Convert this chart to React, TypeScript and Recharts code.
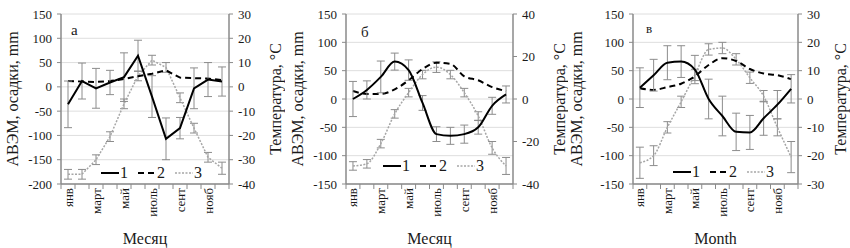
import React from 'react';
import { ComposedChart, Line, XAxis, YAxis, CartesianGrid, ErrorBar, Legend, Label } from 'recharts';

// ---------- data ----------
const monthNumbers = [1, 2, 3, 4, 5, 6, 7, 8, 9, 10, 11, 12];
const monthNames = ['янв', 'февр', 'март', 'апр', 'май', 'июнь', 'июль', 'авг', 'сент', 'окт', 'нояб', 'дек'];
const seriesNames = ['1', '2', '3'];

// panel а
const aAvem = [-36, 12, -3, 9, 20, 64, -20, -107, -85, -3, 15, 11];
const aAvemErr = [48, 37, 41, 25, 50, 32, 43, 43, 22, 42, 35, 30];
const aPrecip = [12, 11, 10, 12, 16, 22, 27, 34, 19, 18, 17, 14];
const aTemp = [-36, -36, -30, -20.5, -7, 4.5, 11, 8, -4.5, -17, -29, -33.5];
const aTempErr = [2, 2, 2, 2, 2, 2, 2, 2, 2, 2, 2, 2.5];

// panel б
const bAvem = [0, 16, 39, 66, 51, -7, -62, -65, -62, -50, -12, 8];
const bAvemErr = [31, 16, 28, 15, 18, 13, 13, 15, 16, 12, 15, 15];
const bPrecip = [14, 9, 9, 17, 33, 53, 64, 62, 40, 33, 21, 14];
const bTemp = [-31.5, -30.5, -21, -7, 3, 11.5, 15, 11.5, 3, -8, -23, -31.5];
const bTempErr = [2, 2, 2, 2, 2, 2, 2.5, 2, 2, 2, 3, 4];

// panel в
const cAvem = [20, 42, 64, 66, 52, 0, -30, -58, -59, -34, -10, 18];
const cAvemErr = [35, 28, 30, 28, 25, 35, 35, 33, 30, 30, 25, 25];
const cPrecip = [19, 16, 21, 27, 40, 60, 72, 67, 53, 45, 42, 35];
const cTemp = [-22.5, -20, -10, -1, 8.5, 17.5, 18, 14, 7.5, 1, -10, -20.5];
const cTempErr = [5.5, 3.5, 2, 2, 2, 2, 2, 2, 2, 2, 3, 5.5];

// axis ticks
const aLeftTicks = [-200, -150, -100, -50, 0, 50, 100, 150];
const aRightTicks = [-40, -30, -20, -10, 0, 10, 20, 30];
const bLeftTicks = [-150, -100, -50, 0, 50, 100, 150];
const bRightTicks = [-40, -20, 0, 20, 40];
const cLeftTicks = [-150, -100, -50, 0, 50, 100, 150];
const cRightTicks = [-30, -20, -10, 0, 10, 20, 30];
const xTicks = [0.5, 1, 1.5, 2, 2.5, 3, 3.5, 4, 4.5, 5, 5.5, 6, 6.5, 7, 7.5, 8, 8.5, 9, 9.5, 10, 10.5, 11, 11.5, 12, 12.5];

const leftTitle = 'АВЭМ, осадки, mm';
const rightTitle = 'Температура, °С';

function buildRows(s1: number[], e1: number[], s2: number[], s3: number[], e3: number[]) {
  return monthNumbers.map((m, i) => ({ m, s1: s1[i], e1: e1[i], s2: s2[i], s3: s3[i], e3: e3[i] }));
}

// ---------- styling ----------
const FONT = 'Liberation Serif';
const AXIS_COLOR = '#8a8a8a';
const TEXT_COLOR = '#1a1a1a';
const ERR_COLOR = '#8c8c8c';
const S3_COLOR = '#a6a6a6';
const fontStyle = { fontFamily: FONT };

const XTick = (props: any) => {
  const { x, y, payload } = props;
  const v = payload.value as number;
  if (v % 1 !== 0) {
    return <line x1={x} x2={x} y1={y} y2={y + 5} stroke={AXIS_COLOR} strokeWidth={1} />;
  }
  const idx = v - 1;
  if (idx % 2 !== 0) return <g />;
  return (
    <text
      x={x}
      y={y + 4}
      transform={`rotate(-90 ${x} ${y + 4})`}
      textAnchor="end"
      dominantBaseline="central"
      fontSize={13}
      style={fontStyle}
      fill={TEXT_COLOR}
    >
      {monthNames[idx]}
    </text>
  );
};

const makeVTitle = (text: string, x: number) => (props: any) => {
  const vb = props.viewBox || { y: 14, height: 170 };
  const cy = vb.y + vb.height / 2;
  return (
    <text
      x={x}
      y={cy}
      transform={`rotate(-90 ${x} ${cy})`}
      textAnchor="middle"
      dominantBaseline="central"
      fontSize={16}
      style={fontStyle}
      fill={TEXT_COLOR}
    >
      {text}
    </text>
  );
};

const makeXTitle = (text: string) => (props: any) => {
  const vb = props.viewBox || { x: 61, width: 168 };
  const cx = vb.x + vb.width / 2;
  return (
    <text x={cx} y={244} textAnchor="middle" fontSize={16} style={fontStyle} fill={TEXT_COLOR}>
      {text}
    </text>
  );
};

const LegendContent = (props: any) => {
  const payload = (props.payload || []) as any[];
  const styles: Record<string, any> = {
    '1': { stroke: '#000', strokeWidth: 2 },
    '2': { stroke: '#000', strokeWidth: 2, strokeDasharray: '6 4' },
    '3': { stroke: S3_COLOR, strokeWidth: 1.5, strokeDasharray: '2 1.5' },
  };
  const items = payload.length ? payload.map((p) => String(p.value)) : seriesNames;
  items.sort();
  return (
    <svg width={104} height={18} style={{ display: 'block' }}>
      {items.map((name, i) => (
        <g key={name} transform={`translate(${i * 37},0)`}>
          <line x1={0} x2={18} y1={9} y2={9} {...styles[name]} />
          <text x={19} y={14} fontSize={16} style={fontStyle} fill={TEXT_COLOR}>
            {name}
          </text>
        </g>
      ))}
    </svg>
  );
};

type PanelProps = {
  rows: any[];
  letter: string;
  xTitle: string;
  leftTicks: number[];
  rightTicks: number[];
  curve: 'linear' | 'monotone';
  width: number;
  marginLeft: number;
  marginRight: number;
  leftTitleX: number;
  rightTitleX: number;
  legendLeft: number;
  legendTop: number;
  letterX: number;
  letterY: number;
  letterSize: number;
};

function Panel(p: PanelProps) {
  const leftDomain = [p.leftTicks[0], p.leftTicks[p.leftTicks.length - 1]];
  const rightDomain = [p.rightTicks[0], p.rightTicks[p.rightTicks.length - 1]];
  const tickStyle = { fontSize: 13, fontFamily: FONT, fill: TEXT_COLOR, style: fontStyle };
  return (
    <ComposedChart
      width={p.width}
      height={248}
      data={p.rows}
      margin={{ top: 14, right: p.marginRight, bottom: 0, left: p.marginLeft }}
      style={fontStyle}
    >
      <CartesianGrid yAxisId="left" xAxisId="bottom" vertical={false} stroke="#dedede" strokeWidth={1} />
      <XAxis
        xAxisId="bottom"
        dataKey="m"
        type="number"
        domain={[0.5, 12.5]}
        ticks={xTicks}
        interval={0}
        tick={<XTick />}
        tickLine={false}
        tickSize={0}
        tickMargin={0}
        height={64}
        axisLine={{ stroke: AXIS_COLOR, strokeWidth: 1.5 }}
      >
        <Label content={makeXTitle(p.xTitle)} />
      </XAxis>
      <XAxis
        xAxisId="top"
        orientation="top"
        dataKey="m"
        type="number"
        domain={[0.5, 12.5]}
        tick={false}
        tickLine={false}
        height={0}
        axisLine={{ stroke: AXIS_COLOR, strokeWidth: 1.5 }}
      />
      <YAxis
        yAxisId="left"
        width={50}
        domain={leftDomain}
        ticks={p.leftTicks}
        interval={0}
        tick={tickStyle}
        tickSize={4}
        tickMargin={5}
        tickLine={{ stroke: AXIS_COLOR }}
        axisLine={{ stroke: AXIS_COLOR, strokeWidth: 1.5 }}
        allowDataOverflow
      >
        <Label content={makeVTitle(leftTitle, p.leftTitleX)} />
      </YAxis>
      <YAxis
        yAxisId="right"
        orientation="right"
        width={40}
        domain={rightDomain}
        ticks={p.rightTicks}
        interval={0}
        tick={tickStyle}
        tickSize={4}
        tickMargin={5}
        tickLine={{ stroke: AXIS_COLOR }}
        axisLine={{ stroke: AXIS_COLOR, strokeWidth: 1.5 }}
        allowDataOverflow
      >
        <Label content={makeVTitle(rightTitle, p.rightTitleX)} />
      </YAxis>
      <Legend
        layout="horizontal"
        verticalAlign="middle"
        align="center"
        content={<LegendContent />}
        wrapperStyle={{ position: 'absolute', left: p.legendLeft, top: p.legendTop, width: 104, height: 18 }}
      />
      <Line
        name={seriesNames[2]}
        xAxisId="bottom"
        yAxisId="right"
        type={p.curve}
        dataKey="s3"
        stroke={S3_COLOR}
        strokeWidth={1.5}
        strokeDasharray="2 1.5"
        dot={false}
        isAnimationActive={false}
      >
        <ErrorBar dataKey="e3" width={4} stroke={ERR_COLOR} strokeWidth={1} direction="y" />
      </Line>
      <Line
        name={seriesNames[1]}
        xAxisId="bottom"
        yAxisId="left"
        type={p.curve}
        dataKey="s2"
        stroke="#000"
        strokeWidth={2}
        strokeDasharray="6 4"
        dot={false}
        isAnimationActive={false}
      />
      <Line
        name={seriesNames[0]}
        xAxisId="bottom"
        yAxisId="left"
        type={p.curve}
        dataKey="s1"
        stroke="#000"
        strokeWidth={2}
        dot={false}
        isAnimationActive={false}
      >
        <ErrorBar dataKey="e1" width={4} stroke={ERR_COLOR} strokeWidth={1} direction="y" />
      </Line>
      <text x={p.letterX} y={p.letterY} fontSize={p.letterSize} style={fontStyle} fill={TEXT_COLOR}>
        {p.letter}
      </text>
    </ComposedChart>
  );
}

export default function App() {
  const rowsA = buildRows(aAvem, aAvemErr, aPrecip, aTemp, aTempErr);
  const rowsB = buildRows(bAvem, bAvemErr, bPrecip, bTemp, bTempErr);
  const rowsC = buildRows(cAvem, cAvemErr, cPrecip, cTemp, cTempErr);
  return (
    <div
      style={{
        position: 'absolute',
        left: 0,
        top: 0,
        width: 850,
        height: 248,
        display: 'flex',
        background: '#fff',
        fontFamily: FONT,
      }}
    >
      <Panel
        rows={rowsA}
        letter="а"
        xTitle="Месяц"
        leftTicks={aLeftTicks}
        rightTicks={aRightTicks}
        curve="linear"
        width={285}
        marginLeft={11}
        marginRight={16}
        leftTitleX={12}
        rightTitleX={275}
        legendLeft={101}
        legendTop={164}
        letterX={71}
        letterY={35}
        letterSize={15}
      />
      <Panel
        rows={rowsB}
        letter="б"
        xTitle="Месяц"
        leftTicks={bLeftTicks}
        rightTicks={bRightTicks}
        curve="monotone"
        width={283}
        marginLeft={11}
        marginRight={15}
        leftTitleX={12}
        rightTitleX={274}
        legendLeft={98}
        legendTop={157}
        letterX={76}
        letterY={37}
        letterSize={15}
      />
      <Panel
        rows={rowsC}
        letter="в"
        xTitle="Month"
        leftTicks={cLeftTicks}
        rightTicks={cRightTicks}
        curve="monotone"
        width={282}
        marginLeft={15}
        marginRight={12}
        leftTitleX={8}
        rightTitleX={272}
        legendLeft={105}
        legendTop={163}
        letterX={78}
        letterY={33}
        letterSize={13}
      />
    </div>
  );
}
